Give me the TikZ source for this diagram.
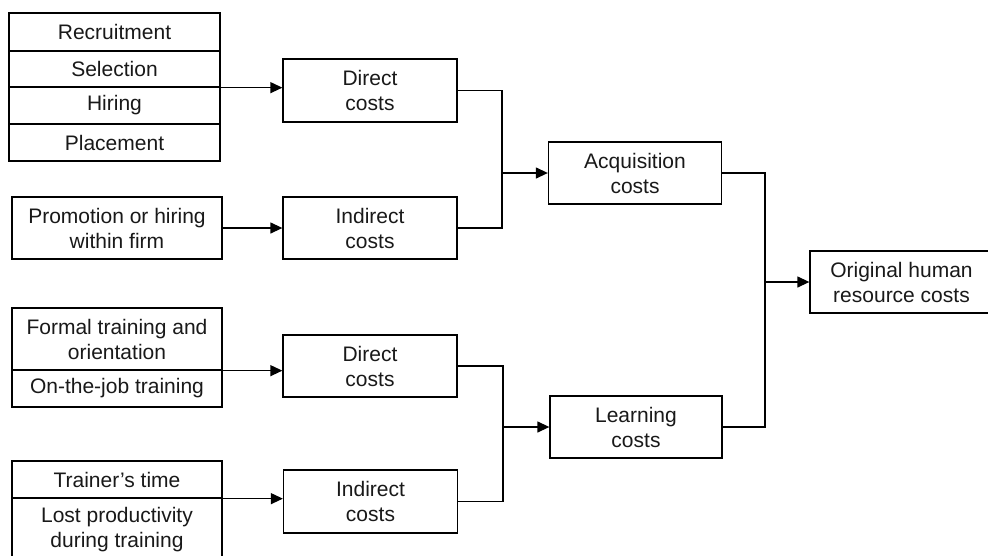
\documentclass[tikz,border=0pt]{standalone}
\usepackage{fontspec}
\setmainfont{Liberation Sans}
\usetikzlibrary{arrows.meta}
\begin{document}
\begin{tikzpicture}[x=1pt,y=-1pt,
  box/.style={draw, line width=1.3pt, inner sep=0pt, align=center,
    font=\fontsize{21}{25}\selectfont, text=black!90},
  arr/.style={line width=1.3pt, -{Triangle[length=12pt,width=11pt]}},
  ln/.style={line width=1.3pt}]
\useasboundingbox (0,0) rectangle (988,555);
\clip (0,0) rectangle (988,555);
\fill[white] (0,0) rectangle (988,555);
% acquisition inputs
\node[box, minimum width=211pt, minimum height=38pt] (rec) at (114.5,32) {Recruitment};
\node[box, minimum width=211pt, minimum height=36pt] (sel) at (114.5,69) {Selection};
\node[box, minimum width=211pt, minimum height=37pt] (hir) at (114.5,105.5) {\strut Hiring};
\node[box, minimum width=211pt, minimum height=37pt] (pla) at (114.5,142.5) {Placement};
\node[box, minimum width=210pt, minimum height=62pt] (pro) at (117,228) {Promotion or hiring\\within firm};
% learning inputs
\node[box, minimum width=210pt, minimum height=62pt] (for) at (117,339) {Formal training and\\orientation};
\node[box, minimum width=210pt, minimum height=37pt] (ojt) at (117,388.5) {On-the-job training};
\node[box, minimum width=210pt, minimum height=37pt] (tra) at (117,479.5) {Trainer’s time};
\node[box, minimum width=210pt, minimum height=64pt] (los) at (117,530) {Lost productivity\\during training};
% cost types
\node[box, minimum width=174pt, minimum height=63pt] (d1) at (370,90.5) {Direct\\costs};
\node[box, minimum width=174pt, minimum height=62pt] (i1) at (370,228) {Indirect\\costs};
\node[box, minimum width=174pt, minimum height=62pt] (d2) at (370,366) {Direct\\costs};
\node[box, minimum width=174pt, minimum height=63pt] (i2) at (370.5,501.5) {Indirect\\costs};
% aggregates
\node[box, minimum width=173pt, minimum height=62pt] (acq) at (635,173) {Acquisition\\costs};
\node[box, minimum width=172pt, minimum height=62pt] (lea) at (636,427) {Learning\\costs};
\node[box, minimum width=183pt, minimum height=62pt] (ori) at (901.5,282) {Original human\\resource costs};
% junctions
\coordinate (ja) at (502,173);
\coordinate (jl) at (503,427);
\coordinate (jo) at (765,282);
% connectors
\draw[arr] (sel.south east) -- (sel.south east -| d1.west);
\draw[arr] (pro.east) -- (i1.west);
\draw[arr] (for.south east) -- (for.south east -| d2.west);
\draw[arr] (tra.south east) -- (tra.south east -| i2.west);
\draw[ln] (d1.east) -| (ja);
\draw[ln] (i1.east) -| (ja);
\draw[arr] (ja) -- (acq.west);
\draw[ln] (d2.east) -| (jl);
\draw[ln] (i2.east) -| (jl);
\draw[arr] (jl) -- (lea.west);
\draw[ln] (acq.east) -| (jo);
\draw[ln] (lea.east) -| (jo);
\draw[arr] (jo) -- (ori.west);
\end{tikzpicture}
\end{document}
